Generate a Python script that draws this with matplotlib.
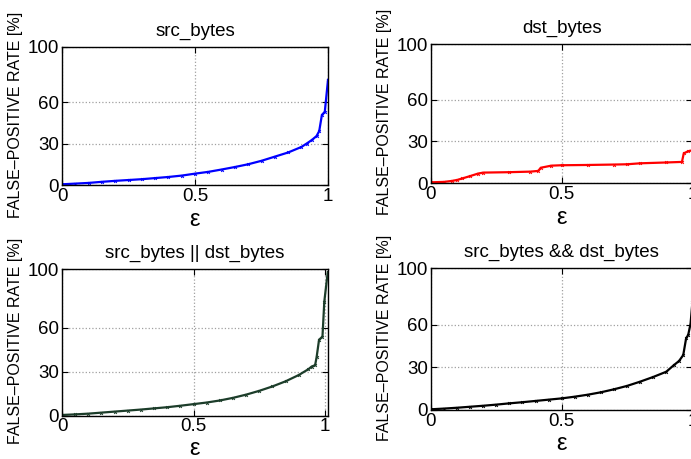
import matplotlib
matplotlib.use("Agg")
import matplotlib.pyplot as plt

plt.rcParams['font.family'] = ['Liberation Sans', 'DejaVu Sans']

# ---- data ----
eps_src = [0, 0.05, 0.1, 0.15, 0.2, 0.25, 0.3, 0.35, 0.4, 0.45, 0.5, 0.55, 0.6, 0.65,
           0.7, 0.75, 0.8, 0.85, 0.9, 0.92, 0.939, 0.957, 0.967, 0.977, 0.988, 1.0]
fpr_src = [0.5, 1.0, 1.5, 2.3, 3.0, 3.6, 4.2, 5.0, 5.8, 6.8, 8.2, 9.5, 11.2, 13.0,
           15.0, 17.5, 20.5, 23.5, 27.5, 30.0, 32.5, 35.4, 39.0, 50.6, 53.0, 76.0]

eps_dst = [0, 0.05, 0.08, 0.1, 0.12, 0.15, 0.18, 0.2, 0.3, 0.38, 0.41, 0.42, 0.46,
           0.5, 0.6, 0.7, 0.75, 0.8, 0.9, 0.96, 0.967, 0.985, 1.0]
fpr_dst = [0.5, 0.8, 1.5, 2.2, 3.3, 5.0, 6.8, 7.5, 7.8, 8.2, 8.7, 11.0, 12.5,
           12.8, 13.0, 13.3, 13.5, 14.2, 14.8, 15.2, 21.4, 23.0, 23.5]

eps_or = [0, 0.05, 0.1, 0.15, 0.2, 0.25, 0.3, 0.35, 0.4, 0.45, 0.5, 0.55, 0.6, 0.65,
          0.7, 0.75, 0.8, 0.85, 0.9, 0.936, 0.949, 0.962, 0.968, 0.977, 0.99, 0.997, 1.01]
fpr_or = [0.5, 0.9, 1.4, 2.1, 2.8, 3.5, 4.2, 5.0, 5.8, 6.8, 7.9, 9.0, 10.4, 12.2,
          14.4, 17.0, 20.0, 23.5, 27.8, 31.7, 33.6, 34.5, 40.3, 51.9, 54.0, 78.0, 98.0]

eps_and = [0, 0.05, 0.1, 0.15, 0.2, 0.25, 0.3, 0.35, 0.4, 0.45, 0.5, 0.55, 0.6, 0.65,
           0.7, 0.75, 0.8, 0.85, 0.9, 0.93, 0.949, 0.965, 0.976, 0.984, 0.993, 1.0]
fpr_and = [0.5, 1.0, 1.6, 2.3, 3.0, 3.8, 4.7, 5.5, 6.4, 7.3, 8.2, 9.4, 10.8, 12.5,
           14.6, 17.0, 20.0, 23.3, 27.0, 31.8, 34.6, 38.8, 50.6, 53.0, 61.0, 76.0]

titles = ['src_bytes', 'dst_bytes', 'src_bytes || dst_bytes', 'src_bytes && dst_bytes']
colors = ['#0000ff', '#ff0000', '#1c3d2a', '#000000']
xticks = [0, 0.5, 1]
xticklabels = ['0', '0.5', '1']
yticks = [0, 30, 60, 100]
yticklabels = ['0', '30', '60', '100']
ylabel = 'FALSE\u2013POSITIVE RATE [%]'
xlabel = '\u03b5'

W, H = 691, 459
fig = plt.figure(figsize=(W / 100, H / 100), dpi=100)

def px_axes(left, right, top, bottom):
    return fig.add_axes([left / W, (H - bottom) / H, (right - left) / W, (bottom - top) / H])

boxes = [(62, 328, 46.7, 185), (431, 692.4, 44.3, 183),
         (62, 328, 269.3, 415.7), (431, 692.4, 268.3, 410)]
xmaxs = [1.0, 1.0, 1.011, 1.0]
ylab_x = [23, 392, 23, 392]
xlab_pad = [3, 3, 2, 2]
series = [(eps_src, fpr_src), (eps_dst, fpr_dst), (eps_or, fpr_or), (eps_and, fpr_and)]

for i, (box, xmax, (xs, ys)) in enumerate(zip(boxes, xmaxs, series)):
    ax = px_axes(*box)
    ax.plot(xs, ys, color=colors[i], lw=1.6, marker='x', ms=2.0, mew=0.7)
    ax.set_xlim(0, xmax)
    ax.set_ylim(0, 100)
    ax.set_xticks(xticks)
    ax.set_xticklabels(xticklabels)
    ax.set_yticks(yticks)
    ax.set_yticklabels(yticklabels)
    ax.tick_params(direction='in', length=4, width=0.8, labelsize=13.5, pad=2,
                   top=True, right=True)
    ax.grid(True, linestyle=':', color='#a0a0a0', linewidth=0.9)
    for s in ax.spines.values():
        s.set_linewidth(1.0)
    ax.set_title(titles[i], fontsize=13.5, pad=8)
    ax.set_ylabel(ylabel, fontsize=11.5)
    left, right, top, bottom = box
    ax.yaxis.set_label_coords((ylab_x[i] - left) / (right - left), 0.51)
    ax.set_xlabel(xlabel, fontsize=17, labelpad=xlab_pad[i])

fig.savefig('out.png', dpi=100)
